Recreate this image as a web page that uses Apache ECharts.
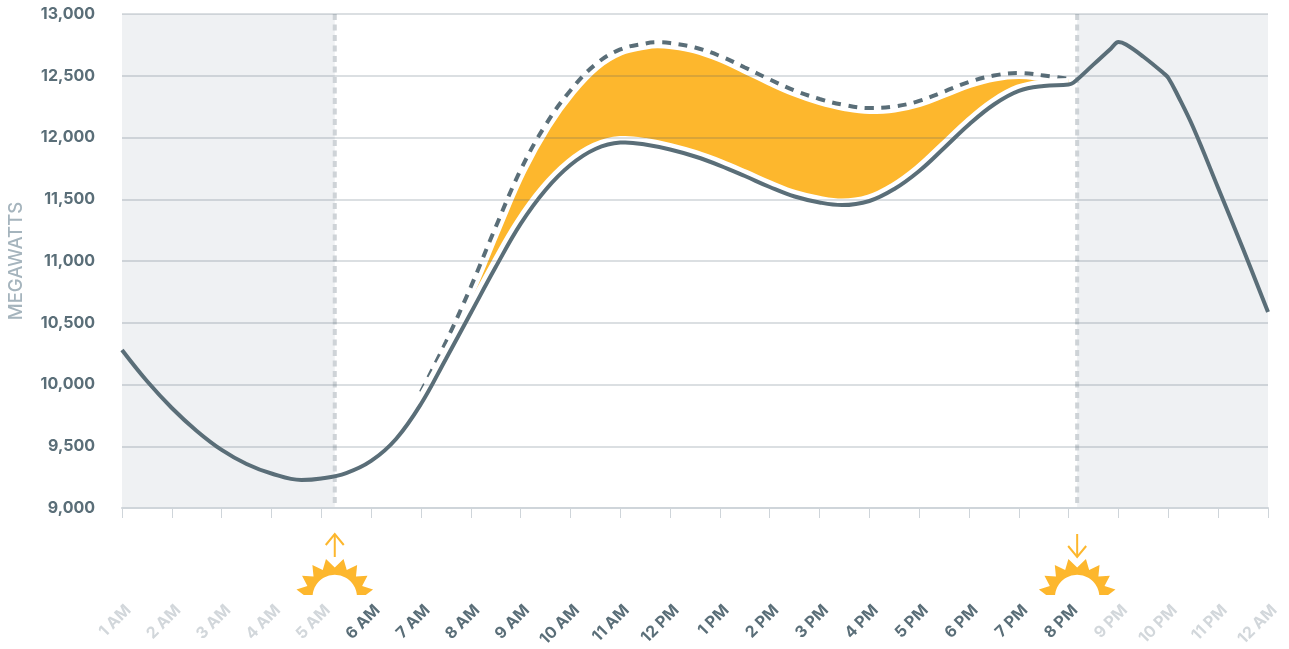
<!DOCTYPE html>
<html><head><meta charset="utf-8">
<style>html,body{margin:0;padding:0;background:#fff}#c{width:1289px;height:649px}</style>
<script src="https://cdn.jsdelivr.net/npm/echarts@6/dist/echarts.min.js"></script>
</head><body><div id="c"></div>
<script>
const hourLabels = ['1 AM','2 AM','3 AM','4 AM','5 AM','6 AM','7 AM','8 AM','9 AM','10 AM','11 AM','12 PM','1 PM','2 PM','3 PM','4 PM','5 PM','6 PM','7 PM','8 PM','9 PM','10 PM','11 PM','12 AM'];
const yTicks = [9000,13000];
const sunrise = 5.27;
const sunset = 20.17;
const netHours = [1,1.5,2,2.5,3,3.5,4,4.6,5,5.5,6,6.5,7,7.5,8,8.5,9,9.5,10,10.5,11,11.1,11.5,12,12.5,13,13.5,14,14.5,15,15.45,16,16.5,17,17.5,18,18.5,19,19.5,20,20.1,20.5,20.85,21,21.15,21.5,21.9,22,22.2,22.5,23,23.5,24];
const netLoad = [10279,10028,9810,9624,9470,9356,9279,9227,9239,9283,9381,9559,9842,10207,10579,10951,11300,11575,11777,11907,11959,11960,11943,11903,11846,11773,11688,11599,11522,11474,11453,11486,11583,11729,11915,12105,12267,12377,12417,12429,12445,12592,12721,12773,12753,12654,12522,12482,12332,12081,11591,11097,10587];
const grossHours = [7,7.5,8,8.5,9,9.5,10,10.5,11,11.5,11.75,12,12.5,13,13.5,14,14.5,15,15.5,16,16.5,17,17.5,18,18.5,19,19.5,20];
const grossLoad = [9939,10344,10790,11275,11737,12101,12381,12591,12713,12761,12771,12765,12729,12660,12567,12470,12381,12312,12263,12239,12251,12296,12372,12449,12502,12522,12502,12474];

const SLATE='#5a6e78', GRID='rgba(70,90,105,.26)', FAINT='#cfd5da', SUN='#fdb72d', BAND='#eff1f3';
const pair = (xs, ys) => xs.map((x,i)=>[x,ys[i]]);
const netPts = pair(netHours,netLoad), grossPts = pair(grossHours,grossLoad);
const netDay = netPts.filter(p=>p[0]>=7&&p[0]<=20);
const line = {type:'line',smooth:0.4,symbol:'none',silent:true,animation:false,clip:false};

function sunShape(cx, cy){
  const tips=[-79,-57,-35,-13,13,35,57,79], pts=[];
  const rad=a=>a*Math.PI/180, p=(r,a)=>[cx+r*Math.sin(rad(a)),cy-r*Math.cos(rad(a))];
  pts.push([cx-31,cy-2]);
  tips.forEach((a,i)=>{pts.push(p(39,a)); if(i<tips.length-1) pts.push(p(29.5,(a+tips[i+1])/2));});
  pts.push([cx+31,cy-2]);
  for(let a=85;a>=-85;a-=5) pts.push(p(22.2,a));
  return pts;
}
const custom = (z, renderItem, data) => ({type:'custom',z,silent:true,animation:false,clip:false,data,renderItem});

const option = {
  animation:false,
  grid:{left:122,right:21,top:14,bottom:141,containLabel:false,outerBoundsMode:'none'},
  xAxis:{type:'value',min:1,max:24,interval:1,z:6,
    axisLine:{show:true,onZero:false,lineStyle:{color:FAINT,width:2}},
    axisTick:{show:true,length:10,lineStyle:{color:FAINT,width:1}},
    splitLine:{show:false},
    axisLabel:{show:true,rotate:45,margin:106,fontFamily:'Inter',fontWeight:700,fontSize:16,hideOverlap:false,showMinLabel:true,showMaxLabel:true,
      padding:[0,-9,0,0],
      formatter:v=>hourLabels[v-1]||'',
      color:v=>(v>=6&&v<=20)?SLATE:'#d2d7db'}},
  yAxis:{type:'value',min:yTicks[0],max:yTicks[1],interval:500,z:6,
    name:'MEGAWATTS',nameLocation:'middle',nameGap:96,nameRotate:90,
    nameTextStyle:{color:'#a5b4bd',fontFamily:'Inter',fontWeight:500,fontSize:18.5},
    axisLine:{show:false},axisTick:{show:false},
    splitLine:{show:true,lineStyle:{color:GRID,width:1.5}},
    axisLabel:{margin:27,color:SLATE,fontFamily:'Inter',fontWeight:700,fontSize:16,
      formatter:v=>v.toLocaleString('en-US')}},
  series:[
    custom(1,(params,api)=>{
      const top=api.coord([1,13000])[1], bot=api.coord([1,9000])[1];
      const l=api.coord([api.value(0),9000])[0], r=api.coord([api.value(1),9000])[0];
      return {type:'rect',shape:{x:l,y:top,width:r-l,height:bot-top},style:{fill:BAND}};
    },[[1,sunrise],[sunset,24]]),
    custom(2,(params,api)=>{
      const x=api.coord([api.value(0),9000])[0], top=api.coord([1,13000])[1], bot=api.coord([1,9000])[1];
      return {type:'line',shape:{x1:x,y1:top,x2:x,y2:bot},style:{stroke:'#ced3d7',lineWidth:4,lineDash:[6,4.5]}};
    },[[sunrise],[sunset]]),
    custom(2,(params,api)=>{
      const upper=grossPts.map(p=>api.coord(p));
      const lower=netDay.map(p=>api.coord(p)).reverse();
      return {type:'polygon',shape:{points:upper.concat(lower)},style:{fill:SUN}};
    },[[0]]),
    Object.assign({},line,{name:'grossHalo',z:3,data:grossPts,lineStyle:{color:'#fff',width:12}}),
    Object.assign({},line,{name:'gross',z:4,data:grossPts,lineStyle:{color:SLATE,width:4,type:[9,7.5]}}),
    Object.assign({},line,{name:'netHalo',z:5,data:netDay,lineStyle:{color:'#fff',width:13}}),
    Object.assign({},line,{name:'net',z:7,data:netPts,lineStyle:{color:SLATE,width:4}}),
    custom(8,(params,api)=>{
      const [cx,base]=api.coord([api.value(0),9000]);
      const up=api.value(1)>0, top=base+26, bot=base+49;
      const tip=up?top:bot, wing=up?tip+11:tip-11;
      return {type:'group',children:[
        {type:'polygon',shape:{points:sunShape(cx,base+89)},style:{fill:SUN}},
        {type:'line',shape:{x1:cx,y1:top,x2:cx,y2:bot},style:{stroke:SUN,lineWidth:2}},
        {type:'polyline',shape:{points:[[cx-9,wing],[cx,tip],[cx+9,wing]]},style:{stroke:SUN,lineWidth:2,fill:null}}
      ]};
    },[[sunrise,1],[sunset,-1]])
  ]
};
const chart=echarts.init(document.getElementById('c'),null,{renderer:'canvas'});
chart.setOption(option);
</script></body></html>
